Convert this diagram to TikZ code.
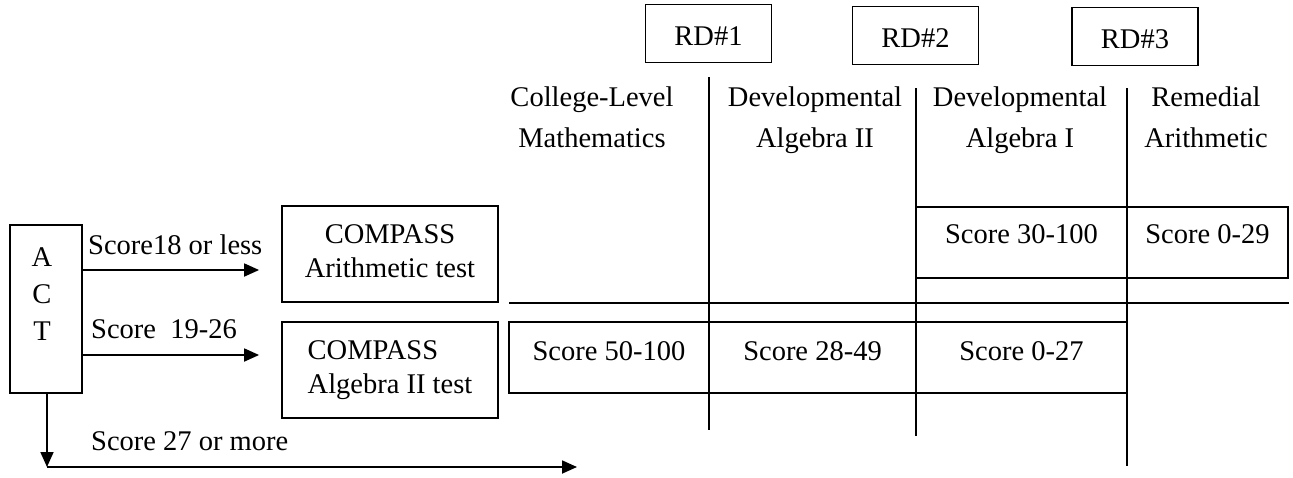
\documentclass[tikz,border=0pt]{standalone}
\usepackage{fontspec}
\setmainfont{Liberation Serif}
\usetikzlibrary{arrows.meta}
\tikzset{
  lw/.style={line width=1.8pt},
  txt/.style={font=\fontsize{28.5}{34}\selectfont, inner sep=0pt},
  boxnode/.style={txt, draw, lw},
  arr/.style={lw, -{Triangle[length=15pt,width=13pt]}},
  rdbox/.style={boxnode, minimum width=126pt, minimum height=58pt, text height=24pt, text depth=0pt},
  topcell/.style={boxnode, minimum height=71pt, text height=19pt, text depth=18pt},
  botcell/.style={boxnode, minimum height=71pt, text height=19pt, text depth=14pt},
  compbox/.style={boxnode, minimum width=216pt, minimum height=96pt, text depth=6pt, font=\fontsize{28.5}{33.5}\selectfont},
  header/.style={txt, align=center, anchor=north, font=\fontsize{28.5}{41}\selectfont},
}
\begin{document}
\begin{tikzpicture}[x=1pt,y=-1pt]
\useasboundingbox (0,0) rectangle (1293,477);

% RD boxes
\node[rdbox] (rd1) at (708.5,33.5) {RD\#1};
\node[rdbox] (rd2) at (915.5,35.5) {RD\#2};
\node[rdbox] (rd3) at (1135,36.5) {RD\#3};

% column headers
\node[header] (h1) at (592,86.5) {College-Level\\Mathematics};
\node[header] (h2) at (815,86.5) {Developmental\\Algebra II};
\node[header] (h3) at (1020,86.5) {Developmental\\Algebra I};
\node[header] (h4) at (1206,86.5) {Remedial\\Arithmetic};

% divider lines
\draw[lw] (709,77) -- (709,430);
\draw[lw] (916,88) -- (916,436);
\draw[lw] (1127,88) -- (1127,466);
\draw[lw] (509,303) -- (1289,303);

% score cells
\node[topcell, minimum width=211pt] (c30) at (1021.5,242.5) {Score 30-100};
\node[topcell, minimum width=161pt] (c029) at (1207.5,242.5) {Score 0-29\hspace{12pt}};
\node[botcell, minimum width=200pt] (c50) at (609,357.5) {Score 50-100};
\node[botcell, minimum width=207pt] (c28) at (812.5,357.5) {Score 28-49};
\node[botcell, minimum width=211pt] (c027) at (1021.5,357.5) {Score 0-27\hspace{9pt}};

% ACT box
\node[boxnode, minimum width=72pt, minimum height=168pt] (act) at (46,309) {};
\node[txt, align=center, anchor=north, font=\fontsize{28.5}{37}\selectfont] (actt) at (42,247) {A\\C\\T};

% COMPASS boxes
\node[compbox, align=center] (comp1) at (390,254) {COMPASS\\Arithmetic test};
\node[compbox, align=left] (comp2) at (390,370) {COMPASS\\ Algebra II test};

% arrows
\coordinate (r1) at (0,270);
\coordinate (r2) at (0,355);
\draw[arr, shorten >=22pt] (act.east |- r1) -- (comp1.west |- r1);
\draw[arr, shorten >=22pt] (act.east |- r2) -- (comp2.west |- r2);
\coordinate (corner) at (47,467);
\coordinate (endp) at (577,467);
\draw[arr] (act.south -| corner) -- (corner);
\draw[arr] (corner) -- (endp);

% arrow labels
\node[txt, anchor=base west] (l1) at (88,254) {Score18 or less};
\node[txt, anchor=base west] (l2) at (91,338) {Score\ \ 19-26};
\node[txt, anchor=base west] (l3) at (91,450) {Score 27 or more};
\end{tikzpicture}
\end{document}
